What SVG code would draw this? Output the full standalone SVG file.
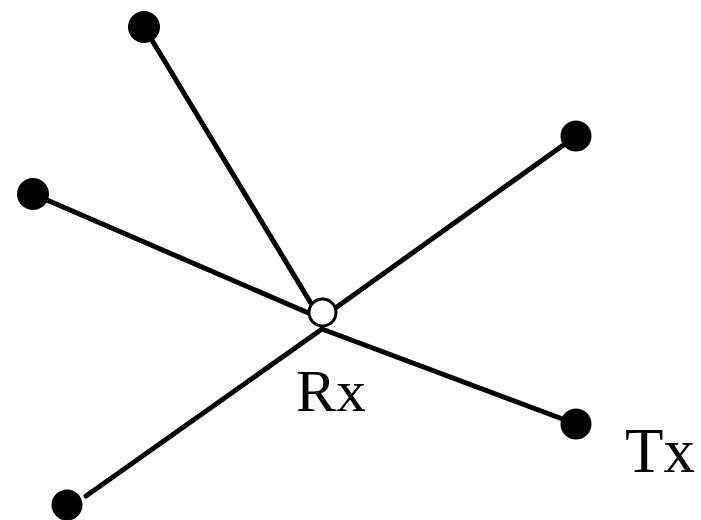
<svg xmlns="http://www.w3.org/2000/svg" width="701" height="520" viewBox="0 0 701 520">
<style>
.ln{stroke:#000;stroke-width:5;fill:none;stroke-linecap:round}
.dot{fill:#000}
.lbl{font-family:"Liberation Serif","Times New Roman",serif;fill:#000}
</style>
<rect width="701" height="520" fill="#fff"/>
<g id="connectors">
<line class="ln" x1="144" y1="27" x2="312" y2="305"/>
<line class="ln" x1="33" y1="194" x2="313" y2="315"/>
<line class="ln" x1="576" y1="136" x2="334" y2="309"/>
<line class="ln" x1="576" y1="424" x2="322" y2="329"/>
<line class="ln" x1="86" y1="496" x2="322" y2="329"/>
</g>
<g id="rx">
<circle cx="322.5" cy="312.5" r="13.5" fill="#fff" stroke="#000" stroke-width="3"/>
<text class="lbl" x="296" y="411" font-size="60">Rx</text>
</g>
<g id="n1"><circle class="dot" cx="144" cy="27" r="16"/></g>
<g id="n2"><circle class="dot" cx="33" cy="194" r="16"/></g>
<g id="n3"><circle class="dot" cx="576" cy="136" r="15.5"/></g>
<g id="n4"><circle class="dot" cx="576" cy="424" r="15.5"/></g>
<g id="n5"><circle class="dot" cx="67" cy="505" r="15.5"/></g>
<g id="tx"><text class="lbl" x="625" y="472" font-size="63">Tx</text></g>
</svg>
